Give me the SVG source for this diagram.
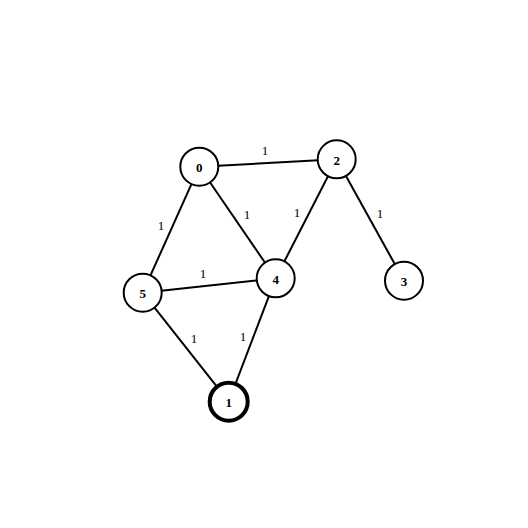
<svg xmlns="http://www.w3.org/2000/svg" width="528" height="528" viewBox="0 0 528 528">
<style>
.edge{stroke:#000;stroke-width:2;fill:none}
.node circle{fill:#fff;stroke:#000;stroke-width:2}
.node text{font-family:"Liberation Serif",serif;font-size:13px;font-weight:bold;text-anchor:middle;dominant-baseline:central}
.lbl{font-family:"Liberation Serif",serif;font-size:13px;text-anchor:middle;dominant-baseline:central}
</style>
<rect width="528" height="528" fill="#fff"/>
<g id="connectors">
<line class="edge" x1="199.3" y1="166.7" x2="336.7" y2="159.3"/>
<line class="edge" x1="199.3" y1="166.7" x2="142.7" y2="292.7"/>
<line class="edge" x1="199.3" y1="166.7" x2="275.7" y2="278.3"/>
<line class="edge" x1="336.7" y1="159.3" x2="275.7" y2="278.3"/>
<line class="edge" x1="336.7" y1="159.3" x2="404" y2="280.7"/>
<line class="edge" x1="142.7" y1="292.7" x2="275.7" y2="278.3"/>
<line class="edge" x1="142.7" y1="292.7" x2="228.7" y2="401.7"/>
<line class="edge" x1="275.7" y1="278.3" x2="228.7" y2="401.7"/>
<text class="lbl" x="265" y="150">1</text>
<text class="lbl" x="161" y="225">1</text>
<text class="lbl" x="247" y="214">1</text>
<text class="lbl" x="297" y="212">1</text>
<text class="lbl" x="380" y="213">1</text>
<text class="lbl" x="203" y="273">1</text>
<text class="lbl" x="194" y="338">1</text>
<text class="lbl" x="243" y="336">1</text>
</g>
<g id="node0" class="node"><circle cx="199.3" cy="166.7" r="19"/><text x="199.3" y="167.7">0</text></g>
<g id="node2" class="node"><circle cx="336.7" cy="159.3" r="19"/><text x="336.7" y="160.3">2</text></g>
<g id="node3" class="node"><circle cx="404" cy="280.7" r="19"/><text x="404" y="281.7">3</text></g>
<g id="node4" class="node"><circle cx="275.7" cy="278.3" r="19"/><text x="275.7" y="279.3">4</text></g>
<g id="node5" class="node"><circle cx="142.7" cy="292.7" r="19"/><text x="142.7" y="293.7">5</text></g>
<g id="node1" class="node"><circle cx="228.7" cy="401.7" r="19" style="stroke-width:4"/><text x="228.7" y="402.7">1</text></g>
</svg>
